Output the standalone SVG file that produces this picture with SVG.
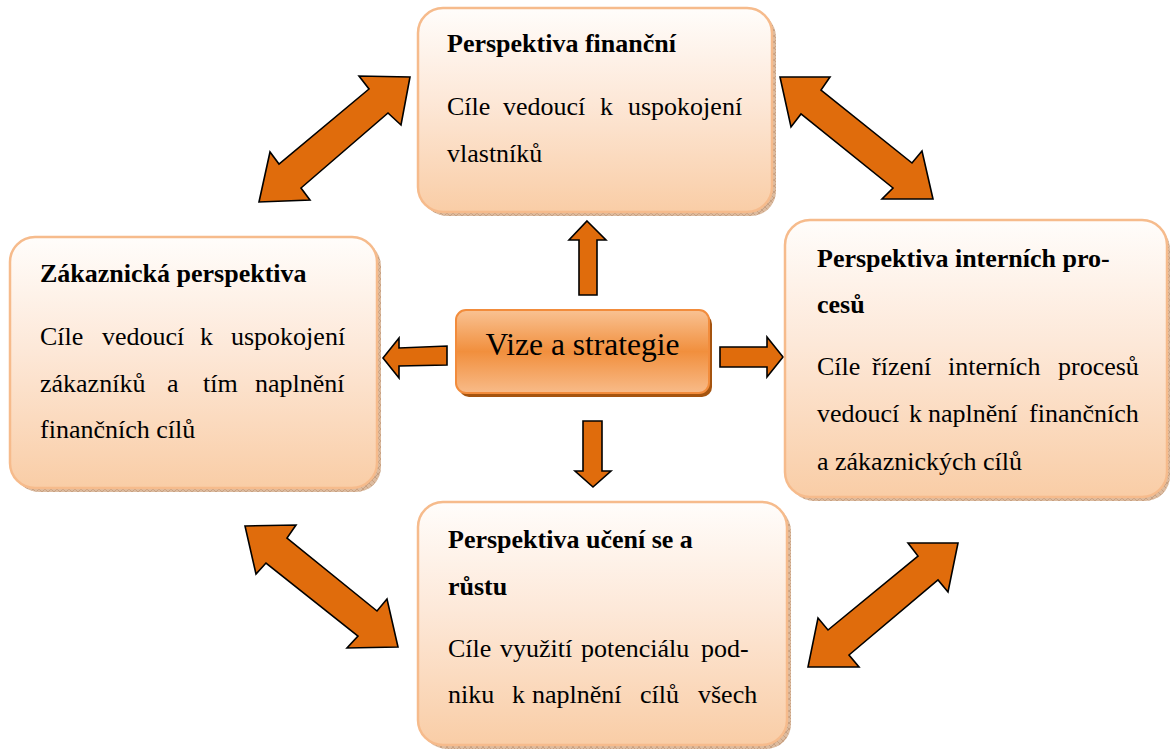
<svg xmlns="http://www.w3.org/2000/svg" width="1170" height="749" viewBox="0 0 1170 749">
  <defs>
    <linearGradient id="boxFill" x1="0" y1="0" x2="0" y2="1">
      <stop offset="0" stop-color="#fffdfb"/>
      <stop offset="0.45" stop-color="#fde8d8"/>
      <stop offset="1" stop-color="#f9cda6"/>
    </linearGradient>
    <linearGradient id="coreFill" x1="0" y1="0" x2="0" y2="1">
      <stop offset="0" stop-color="#f9c293"/>
      <stop offset="0.5" stop-color="#f18f3d"/>
      <stop offset="1" stop-color="#f8bb89"/>
    </linearGradient>
    <pattern id="shadowHatch" width="6" height="6" patternUnits="userSpaceOnUse">
      <rect width="6" height="6" fill="#dcbb9f"/>
      <path d="M0 0L6 6M6 0L0 6" stroke="#c09676" stroke-width="0.7"/>
    </pattern>
  </defs>
  <style>
    .shadow { fill: url(#shadowHatch); }
    .box { fill: url(#boxFill); stroke: #f6bb8c; stroke-width: 2.5; }
    .title { font-family: "Liberation Serif", "Times New Roman", serif; font-size: 26px; font-weight: bold; fill: #000; }
    .body { font-family: "Liberation Serif", "Times New Roman", serif; font-size: 26px; fill: #000; }
    .core-shadow { fill: #a5540f; }
    .core { fill: url(#coreFill); stroke: #f28c3c; stroke-width: 2; }
    .core-text { font-family: "Liberation Serif", "Times New Roman", serif; font-size: 31.5px; fill: #000; }
    .arrow { fill: #e06c0c; stroke: #000; stroke-width: 1.6; stroke-linejoin: miter; }
  </style>
  <rect width="1170" height="749" fill="#ffffff"/>

  <!-- connectors -->
  <g id="connectors">
    <!-- from the core outwards -->
    <polygon class="arrow" points="587,221 606,240 597,240 597,295 579,295 579,240 569,240"/>
    <polygon class="arrow" points="593,487 611,471 602,471 602,421 583,421 583,471 575,471"/>
    <polygon class="arrow" points="383,358 399,338 399,348 447,346 447,365 399,366 399,378"/>
    <polygon class="arrow" points="783,357 767,337 767,347 720,347 720,367 767,367 767,377"/>
    <!-- double arrows between the perspectives -->
    <polygon class="arrow" points="410,77 401,125 388,113 301,188 310,200 259,202 270,152 279,164 369,89 359,76"/>
    <polygon class="arrow" points="780,77 830,77 821,90 912,163 922,151 933,199 882,199 893,188 801,114 791,127"/>
    <polygon class="arrow" points="245,526 296,525 287,538 377,611 387,599 398,647 347,648 358,636 266,563 256,574"/>
    <polygon class="arrow" points="958,543 948,592 938,580 849,655 859,667 808,667 818,618 828,630 918,556 908,543"/>
  </g>

  <!-- financial perspective -->
  <g id="node-financni">
    <rect class="shadow" x="422" y="12" width="354" height="204" rx="25"/>
    <rect class="box" x="418" y="8" width="354" height="204" rx="25"/>
    <text class="title" x="447" y="52">Perspektiva finanční</text>
    <text class="body" y="115"><tspan x="447">Cíle</tspan><tspan x="503">vedoucí</tspan><tspan x="600">k</tspan><tspan x="628">uspokojení</tspan></text>
    <text class="body" x="447" y="162">vlastníků</text>
  </g>

  <!-- customer perspective -->
  <g id="node-zakaznicka">
    <rect class="shadow" x="14" y="241" width="367" height="251" rx="25"/>
    <rect class="box" x="10" y="237" width="367" height="251" rx="25"/>
    <text class="title" x="40" y="282">Zákaznická perspektiva</text>
    <text class="body" y="345"><tspan x="40">Cíle</tspan><tspan x="102">vedoucí</tspan><tspan x="200">k</tspan><tspan x="231">uspokojení</tspan></text>
    <text class="body" y="392"><tspan x="40">zákazníků</tspan><tspan x="167">a</tspan><tspan x="203">tím</tspan><tspan x="255">naplnění</tspan></text>
    <text class="body" x="40" y="438">finančních cílů</text>
  </g>

  <!-- internal processes perspective -->
  <g id="node-interni">
    <rect class="shadow" x="789" y="224" width="381" height="277" rx="25"/>
    <rect class="box" x="785" y="220" width="382" height="277" rx="25"/>
    <text class="title" x="817" y="267">Perspektiva interních pro-</text>
    <text class="title" x="817" y="313">cesů</text>
    <text class="body" y="375"><tspan x="817">Cíle</tspan><tspan x="872">řízení</tspan><tspan x="948">interních</tspan><tspan x="1058">procesů</tspan></text>
    <text class="body" y="422"><tspan x="817">vedoucí</tspan><tspan x="909">k</tspan><tspan x="928">naplnění</tspan><tspan x="1029">finančních</tspan></text>
    <text class="body" x="817" y="470">a zákaznických cílů</text>
  </g>

  <!-- learning and growth perspective -->
  <g id="node-uceni">
    <rect class="shadow" x="422" y="506" width="369" height="243" rx="25"/>
    <rect class="box" x="418" y="502" width="369" height="243" rx="25"/>
    <text class="title" x="448" y="548">Perspektiva učení se a</text>
    <text class="title" x="448" y="595">růstu</text>
    <text class="body" y="657"><tspan x="448">Cíle</tspan><tspan x="500">využití</tspan><tspan x="581">potenciálu</tspan><tspan x="701">pod-</tspan></text>
    <text class="body" y="703"><tspan x="448">niku</tspan><tspan x="512">k</tspan><tspan x="532">naplnění</tspan><tspan x="640">cílů</tspan><tspan x="698">všech</tspan></text>
  </g>

  <!-- vision and strategy core -->
  <g id="node-vize">
    <rect class="core-shadow" x="459" y="314" width="253" height="83" rx="10"/>
    <rect class="core" x="456" y="310" width="253" height="83" rx="10"/>
    <text class="core-text" x="582.5" y="355" text-anchor="middle">Vize a strategie</text>
  </g>
</svg>
